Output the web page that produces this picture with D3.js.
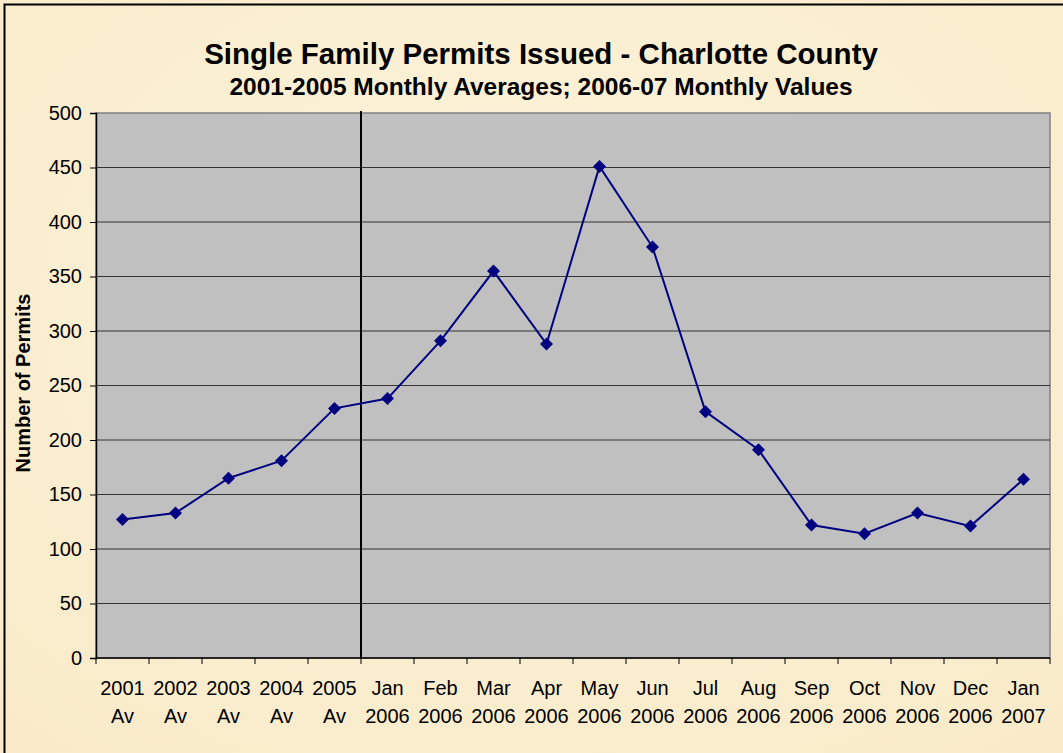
<!DOCTYPE html>
<html><head><meta charset="utf-8">
<script src="https://cdn.jsdelivr.net/npm/d3@7"></script>
<style>body{margin:0;background:#fcf0d3;}svg{display:block;}</style>
</head><body>
<svg id="c" width="1063" height="753"></svg>
<script>
const categories1 = ["2001","2002","2003","2004","2005","Jan","Feb","Mar","Apr","May","Jun","Jul","Aug","Sep","Oct","Nov","Dec","Jan"];
const categories2 = ["Av","Av","Av","Av","Av","2006","2006","2006","2006","2006","2006","2006","2006","2006","2006","2006","2006","2007"];
const permits = [127,133,165,181,229,238,291,355,288,451,377,226,191,122,114,133,121,164];
const yTicks = [0,50,100,150,200,250,300,350,400,450,500];

const svg = d3.select("#c");
const W = 1063, H = 753;
const m = {l:96, r:1050, t:113, b:658};
const FONT = "Liberation Sans, Arial, sans-serif";

const defs = svg.append("defs");
const rg = defs.append("radialGradient").attr("id","bg").attr("cx","50%").attr("cy","40%").attr("r","75%");
rg.append("stop").attr("offset","0%").attr("stop-color","#fdf3dc");
rg.append("stop").attr("offset","100%").attr("stop-color","#f9ebc9");
svg.append("rect").attr("width",W).attr("height",H).attr("fill","url(#bg)");
svg.append("path").attr("d",`M4.5,${H}V4.5H${W}`).attr("fill","none").attr("stroke","#000").attr("stroke-width",2);

const keys = d3.range(categories1.length);
const x = d3.scaleBand().domain(keys).range([m.l, m.r]);
const y = d3.scaleLinear().domain([0,500]).range([m.b, m.t]);

svg.append("rect").attr("x",m.l).attr("y",m.t).attr("width",m.r-m.l).attr("height",m.b-m.t)
  .attr("fill","#c0c0c0").attr("stroke","#808080").attr("stroke-width",1.5);

svg.append("g").selectAll("line").data(yTicks.filter(d=>d>0 && d<500)).join("line")
  .attr("x1",m.l).attr("x2",m.r).attr("y1",d=>y(d)).attr("y2",d=>y(d))
  .attr("stroke","#333").attr("stroke-width",1);

const ya = svg.append("g").attr("transform",`translate(${m.l},0)`)
  .call(d3.axisLeft(y).tickValues(yTicks).tickSize(6).tickPadding(8));
ya.select(".domain").attr("stroke","#000").attr("stroke-width",1.5);
ya.selectAll(".tick line").attr("stroke","#000");
ya.selectAll("text").attr("font-family",FONT).attr("font-size",20).attr("fill","#000");

const xa = svg.append("g").attr("transform",`translate(0,${m.b})`);
xa.append("line").attr("x1",m.l).attr("x2",m.r).attr("stroke","#000").attr("stroke-width",1.5);
xa.selectAll(".tk").data(d3.range(categories1.length+1)).join("line")
  .attr("x1",i=>m.l+i*x.bandwidth()).attr("x2",i=>m.l+i*x.bandwidth())
  .attr("y1",0).attr("y2",6).attr("stroke","#000");
const lab = xa.selectAll(".lb").data(keys).join("text")
  .attr("x",i=>x(i)+x.bandwidth()/2).attr("text-anchor","middle")
  .attr("font-family",FONT).attr("font-size",20).attr("fill","#000");
lab.append("tspan").attr("x",i=>x(i)+x.bandwidth()/2).attr("y",37).text(i=>categories1[i]);
lab.append("tspan").attr("x",i=>x(i)+x.bandwidth()/2).attr("y",65).text(i=>categories2[i]);

svg.append("line").attr("x1",x(5)).attr("x2",x(5)).attr("y1",m.t-2).attr("y2",m.b)
  .attr("stroke","#000").attr("stroke-width",2);

const cx = i=>x(i)+x.bandwidth()/2;
svg.append("path").datum(keys)
  .attr("d",d3.line().x(cx).y(i=>y(permits[i])))
  .attr("fill","none").attr("stroke","#000080").attr("stroke-width",2);
svg.append("g").selectAll("path").data(keys).join("path")
  .attr("transform",i=>`translate(${cx(i)},${y(permits[i])})`)
  .attr("d","M0,-6.5L6.5,0L0,6.5L-6.5,0Z").attr("fill","#000080");

svg.append("text").attr("x",541).attr("y",64).attr("text-anchor","middle")
  .attr("font-family",FONT).attr("font-weight","bold").attr("font-size",29.5)
  .text("Single Family Permits Issued - Charlotte County");
svg.append("text").attr("x",541).attr("y",95).attr("text-anchor","middle")
  .attr("font-family",FONT).attr("font-weight","bold").attr("font-size",24.5)
  .text("2001-2005 Monthly Averages; 2006-07 Monthly Values");
svg.append("text").attr("transform","translate(30,383) rotate(-90)").attr("text-anchor","middle")
  .attr("font-family",FONT).attr("font-weight","bold").attr("font-size",20)
  .text("Number of Permits");
</script>
</body></html>
